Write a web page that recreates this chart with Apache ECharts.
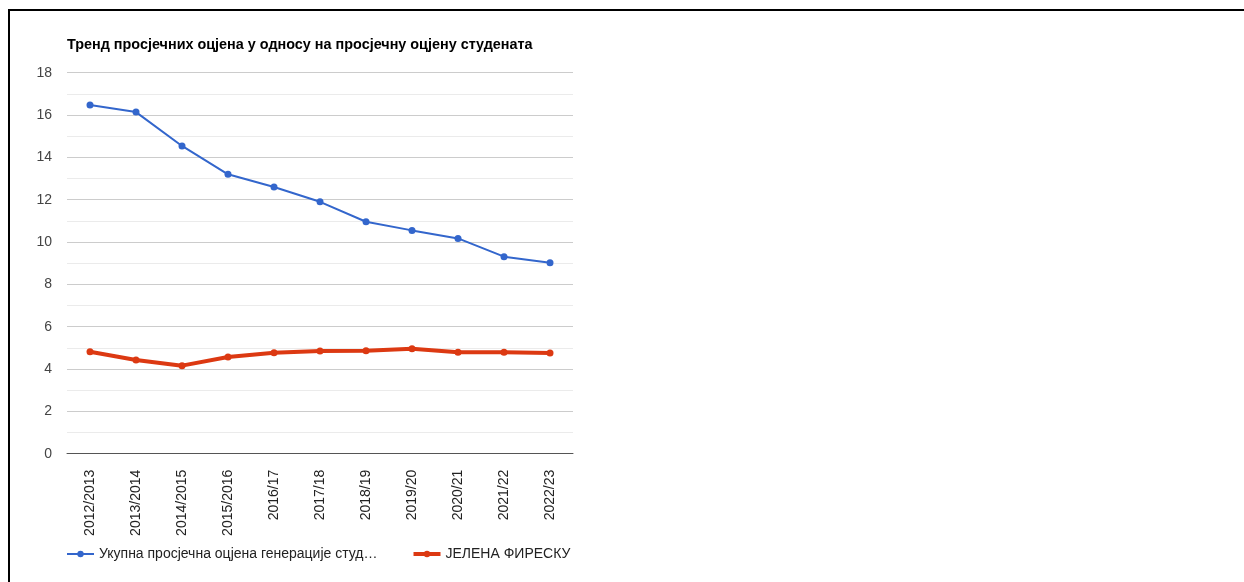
<!DOCTYPE html>
<html>
<head>
<meta charset="utf-8">
<script src="https://cdn.jsdelivr.net/npm/echarts@6/dist/echarts.min.js"></script>
<style>
html,body{margin:0;padding:0;background:#fff;}
#frame{position:absolute;left:8px;top:9px;width:1240px;height:580px;border-top:2px solid #000;border-left:2px solid #000;box-sizing:border-box;}
#chart{position:absolute;left:0;top:0;width:1244px;height:582px;}
</style>
</head>
<body>
<div id="frame"></div>
<div id="chart"></div>
<script>
const titleText = 'Тренд просјечних оцјена у односу на просјечну оцјену студената';
const categories = ['2012/2013','2013/2014','2014/2015','2015/2016','2016/17','2017/18','2018/19','2019/20','2020/21','2021/22','2022/23'];
const seriesNames = ['Укупна просјечна оцјена генерације студената', 'ЈЕЛЕНА ФИРЕСКУ'];
const legendLabels = ['Укупна просјечна оцјена генерације студ…', 'ЈЕЛЕНА ФИРЕСКУ'];
const generationAvg = [16.47, 16.14, 14.54, 13.20, 12.60, 11.90, 10.96, 10.55, 10.17, 9.31, 9.02];
const studentAvg = [4.82, 4.43, 4.16, 4.57, 4.77, 4.85, 4.86, 4.96, 4.79, 4.79, 4.76];
const yMin = 0, yMax = 18, yStep = 2;

const font = 'Arial, "Liberation Sans", sans-serif';
const lineWidths = [2, 4];
const colors = ['#3366cc', '#dc3912'];
const chart = echarts.init(document.getElementById('chart'));
chart.setOption({
  animation: false,
  title: {
    text: titleText, left: 62, top: 33,
    textStyle: {fontFamily: font, fontSize: 14.4, fontWeight: 'bold', color: '#000'}
  },
  legend: {
    left: 61, top: 542, itemGap: 34, itemWidth: 27, itemHeight: 8,
    data: seriesNames.map((n, i) => ({name: n, lineStyle: {width: lineWidths[i], color: colors[i]}, itemStyle: {color: colors[i]}})),
    formatter: function(name){ return legendLabels[seriesNames.indexOf(name)]; },
    textStyle: {fontFamily: font, fontSize: 14, color: '#222'}
  },
  grid: {left: 67, right: 671, top: 72.7, bottom: 128.3, containLabel: false},
  xAxis: {
    type: 'category', data: categories, boundaryGap: true,
    axisLine: {show: true, lineStyle: {color: '#555', width: 1}},
    axisTick: {show: false},
    axisLabel: {rotate: 90, margin: 16, interval: 0, fontFamily: font, fontSize: 14, color: '#222'}
  },
  yAxis: {
    type: 'value', min: yMin, max: yMax, interval: yStep,
    axisLine: {show: false}, axisTick: {show: false},
    axisLabel: {margin: 15, fontFamily: font, fontSize: 14, color: '#444'},
    splitLine: {lineStyle: {color: '#cccccc', width: 1}},
    minorTick: {show: false, splitNumber: 2},
    minorSplitLine: {show: true, lineStyle: {color: '#ebebeb', width: 1}}
  },
  series: [
    {
      name: seriesNames[0], type: 'line', data: generationAvg,
      symbol: 'circle', symbolSize: 7,
      lineStyle: {color: colors[0], width: lineWidths[0]},
      itemStyle: {color: colors[0]}
    },
    {
      name: seriesNames[1], type: 'line', data: studentAvg,
      symbol: 'circle', symbolSize: 7,
      lineStyle: {color: colors[1], width: lineWidths[1]},
      itemStyle: {color: colors[1]}
    }
  ]
});
</script>
</body>
</html>
